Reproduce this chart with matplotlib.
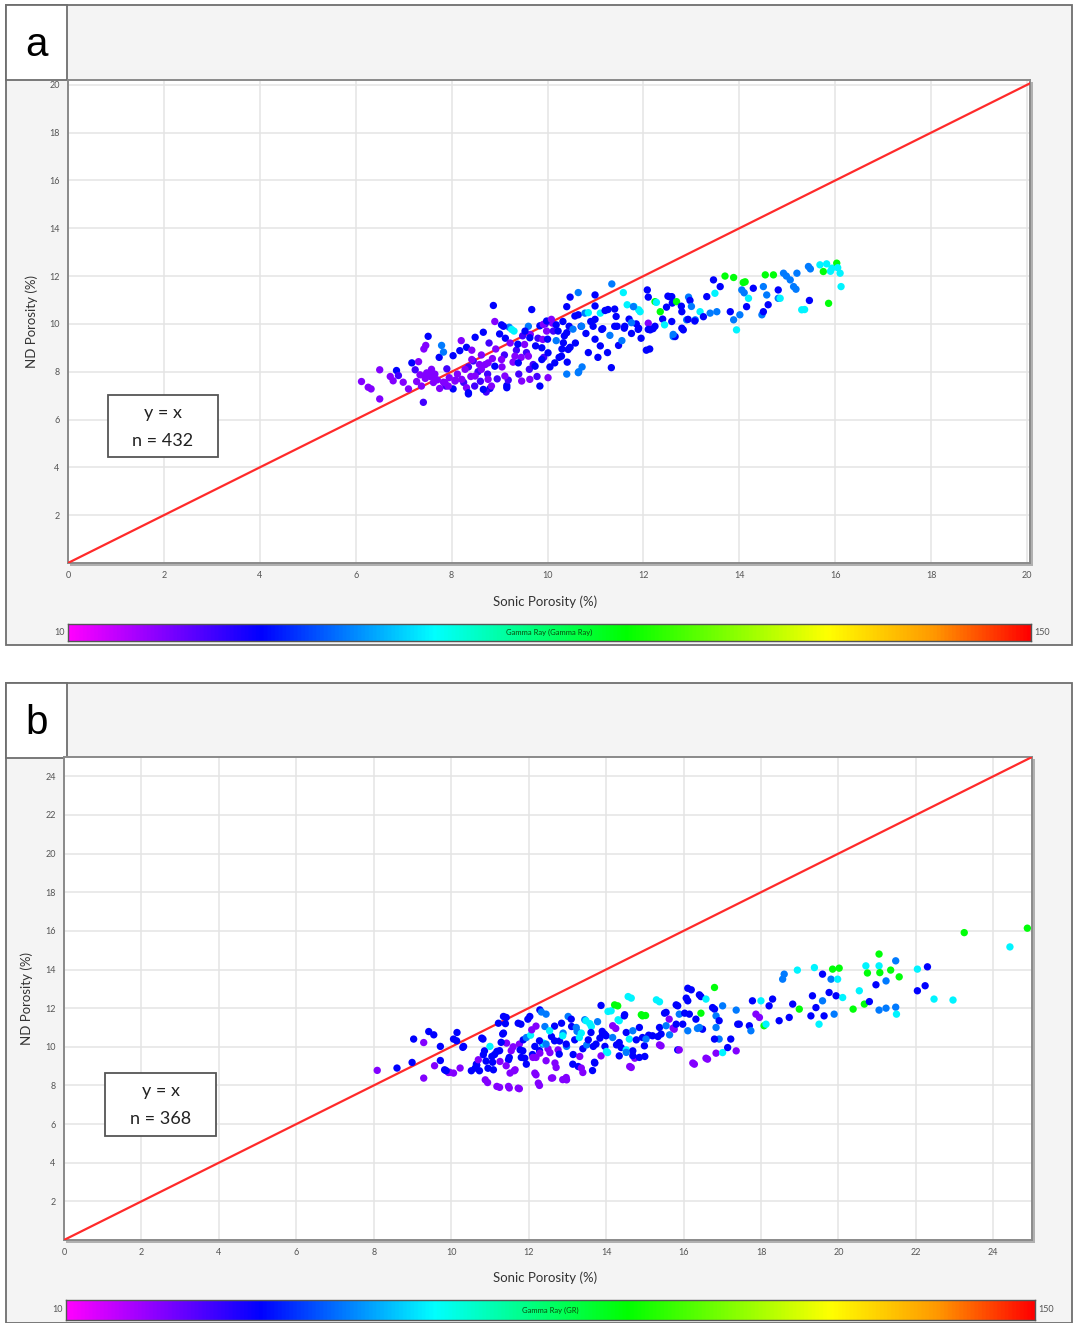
import matplotlib
matplotlib.use("Agg")
import matplotlib.pyplot as plt
from matplotlib.patches import Rectangle
from matplotlib.colors import LinearSegmentedColormap
import numpy as np

plt.rcParams['font.family'] = ['Lato', 'DejaVu Sans']

# GR colour classes
P, V, B, A, C, S, G = 24, 31, 38, 50, 62, 77, 90

# ---------------- panel a data ----------------
xa = [6.12, 6.26, 6.32, 6.50, 6.50, 6.72, 6.78, 6.85, 6.89, 6.99,
      7.10, 7.17, 7.24, 7.31, 7.27, 7.34, 7.41, 7.42, 7.46, 7.37, 7.45, 7.48,
      7.51, 7.55, 7.58, 7.62, 7.65, 7.70, 7.74, 7.79, 7.83, 7.83, 7.90, 7.95, 7.88, 7.75,
      8.03, 8.03, 8.08, 8.12, 8.17, 8.20, 8.25, 8.31, 8.35, 8.35, 8.40, 8.45, 8.48, 8.42,
      8.49, 8.55, 8.60, 8.62, 8.66, 8.70, 8.75, 8.78, 8.80, 8.85, 8.87, 8.90, 8.95, 8.92, 8.58, 8.72,
      9.00, 9.04, 9.05, 9.10, 9.12, 9.15, 9.18, 9.20, 9.22, 9.28, 9.30, 9.35, 9.38, 9.40, 9.45, 9.48,
      9.52, 9.56, 9.60, 9.64, 9.67, 9.70, 9.75, 9.78, 9.80, 9.84, 9.88, 9.90, 9.92, 9.95, 9.98, 9.62,
      10.00, 10.05, 10.10, 10.12, 10.18, 10.18, 10.24, 10.30, 10.32, 10.35, 10.40, 10.41, 10.45, 10.47, 10.47, 10.40,
      10.53, 10.58, 10.64, 10.64, 10.65, 10.70, 10.72, 10.78, 10.80, 10.85, 10.90, 10.95, 10.99, 10.99, 10.99,
      11.05, 11.10, 11.10, 11.15, 11.20, 11.25, 11.30, 11.33, 11.34, 11.40, 11.43, 11.45, 11.48,
      11.55, 11.58, 11.60, 11.66, 11.70, 11.75, 11.80, 11.85, 11.90, 11.90, 11.95, 11.93, 11.79,
      12.06, 12.08, 12.10, 12.10, 12.13, 12.14, 12.20, 12.24, 12.27, 12.35, 12.40, 12.44, 12.48,
      12.55, 12.59, 12.59, 12.60, 12.62, 12.66, 12.69, 12.80, 12.80, 12.83, 12.90, 12.94, 12.97,
      13.00, 13.08, 13.18, 13.25, 13.32, 13.39, 13.46, 13.49, 13.53, 13.60, 13.70, 13.81, 13.88, 13.88, 13.94,
      14.01, 14.05, 14.08, 14.12, 14.10, 14.15, 14.19, 14.29, 14.47, 14.50, 14.50, 14.54, 14.57, 14.60,
      14.71, 14.81, 14.85, 14.81, 14.92, 14.98, 15.06, 15.13, 15.18, 15.20, 15.30, 15.36, 15.44, 15.46, 15.48,
      15.68, 15.75, 15.82, 15.86, 15.90, 15.93, 16.03, 16.05, 16.10, 16.12,
      # extra points in the dense core
      9.08, 9.25, 9.53, 9.63, 9.91, 9.98, 10.08, 10.22, 10.40, 10.33, 10.57, 10.71, 10.85, 10.99,
      11.13, 11.26, 11.40, 11.61, 11.75, 11.89, 12.10, 12.24, 12.51, 12.62, 12.79, 12.93, 13.07,
      8.28, 8.42, 8.49, 8.62, 8.76, 8.76, 8.90, 9.04, 9.11, 9.32, 9.39, 9.60, 9.74, 9.88, 10.01,
      10.15, 10.29, 10.43, 10.64, 7.44, 7.58, 7.65, 7.86, 7.93, 8.07, 8.21, 8.31, 8.35, 8.66,
      8.83, 9.15, 9.46, 9.63, 9.84, 10.01]
ya = [7.59, 7.35, 7.28, 8.08, 6.86, 7.80, 7.62, 8.05, 7.84, 7.56,
      7.28, 8.37, 8.08, 8.42, 7.59, 7.87, 6.72, 8.95, 9.10, 7.40, 7.72, 7.95,
      9.48, 7.80, 8.10, 7.55, 7.90, 7.66, 8.60, 9.10, 8.82, 7.56, 8.12, 7.75, 7.40, 7.30,
      8.67, 7.28, 7.65, 7.90, 8.88, 9.30, 7.55, 9.02, 7.07, 8.20, 7.80, 8.45, 7.40, 8.90,
      9.44, 8.00, 7.60, 8.70, 9.65, 8.30, 7.90, 9.20, 7.30, 8.55, 10.77, 10.10, 7.70, 8.95, 8.30, 7.15,
      9.58, 9.96, 8.20, 8.70, 9.40, 7.42, 7.65, 9.86, 9.20, 8.40, 9.70, 8.90, 9.15, 7.90, 8.60, 9.50,
      9.14, 8.80, 9.90, 9.56, 10.60, 8.30, 9.08, 7.80, 9.40, 9.92, 9.00, 9.35, 8.60, 10.00, 9.70, 8.10,
      9.36, 8.20, 10.03, 9.70, 9.96, 9.30, 8.60, 8.95, 10.10, 9.50, 10.72, 8.40, 9.90, 9.02, 11.12, 7.90,
      9.78, 9.20, 11.31, 10.38, 8.00, 9.90, 8.20, 10.45, 9.60, 8.80, 10.10, 9.90, 11.21, 10.75, 9.36,
      8.60, 10.45, 9.08, 9.80, 10.56, 8.80, 9.52, 8.17, 11.67, 10.62, 10.31, 9.90, 9.10,
      9.30, 11.31, 9.82, 10.80, 10.20, 9.60, 10.73, 10.00, 10.59, 9.82, 9.40, 10.51, 10.72,
      8.90, 11.42, 11.12, 10.03, 8.95, 9.75, 9.80, 10.93, 10.90, 10.51, 10.20, 9.96, 10.70,
      11.13, 10.10, 11.14, 10.87, 9.47, 9.47, 10.93, 10.51, 9.82, 9.75, 10.17, 11.12, 10.98,
      10.73, 10.17, 10.51, 10.30, 11.14, 10.45, 11.84, 11.28, 10.51, 11.56, 12.00, 10.51, 10.17, 11.94, 9.75,
      10.38, 11.42, 11.73, 11.76, 11.30, 10.72, 11.07, 11.49, 10.38, 10.51, 11.56, 12.05, 11.21, 10.80,
      12.05, 11.07, 11.07, 11.42, 12.12, 12.00, 11.84, 11.56, 11.45, 12.12, 10.59, 10.60, 12.40, 10.98, 12.30,
      12.47, 12.19, 12.51, 10.86, 12.20, 12.33, 12.54, 12.35, 12.12, 11.56,
      9.90, 9.77, 9.70, 9.42, 9.98, 10.12, 10.19, 9.70, 9.63, 9.21, 10.33, 9.90, 10.47, 10.19,
      9.77, 10.60, 9.90, 9.90, 10.05, 9.77, 9.77, 9.90, 11.16, 9.56, 10.74, 10.19, 10.12,
      8.10, 8.51, 7.82, 8.10, 8.37, 7.68, 8.23, 8.51, 7.82, 8.65, 8.37, 8.65, 8.23, 8.51, 8.79,
      8.37, 8.65, 8.93, 7.96, 7.82, 7.96, 7.68, 7.54, 7.40, 7.61, 7.68, 7.33, 7.12, 7.26,
      7.40, 7.33, 7.61, 7.68, 7.40, 7.75]
gra = [P, P, P, P, P, P, P, B, V, P,
       P, B, V, P, P, P, V, P, P, P, P, P,
       B, P, P, P, P, P, B, A, A, P, V, P, V, P,
       B, B, P, P, B, P, V, B, B, V, P, V, V, P,
       B, V, V, P, B, P, V, V, B, P, B, P, V, P, P, V,
       B, B, P, V, B, B, V, A, P, P, C, V, B, V, P, V,
       P, V, A, P, B, V, B, V, V, B, B, P, V, V, P, V,
       B, B, P, V, B, A, B, B, B, B, B, B, B, B, B, A,
       A, B, A, B, A, B, A, A, B, B, B, B, B, B, B,
       B, C, B, B, B, B, A, B, A, B, B, B, B,
       A, C, B, C, B, B, C, B, C, B, B, C, A,
       B, B, B, P, B, B, B, G, C, G, B, C, B,
       B, B, B, B, A, B, G, B, B, B, A, A, B,
       A, A, C, B, B, A, B, C, A, B, G, B, A, G, C,
       A, A, G, G, A, B, C, B, A, B, A, G, A, B,
       G, A, C, B, A, A, A, A, A, A, C, C, A, B, A,
       C, G, C, G, C, C, G, C, C, C,
       B, C, B, B, P, B, P, B, B, B, B, A, C, B,
       B, B, B, B, A, B, B, B, B, A, B, B, B,
       P, P, P, P, P, P, B, P, P, P, B, P, B, B, B,
       B, B, B, A, P, P, P, P, P, P, P, P, B, B,
       P, B, P, P, B, P]

# ---------------- panel b data ----------------
xb = [8.09, 8.60, 8.99, 9.03, 9.29, 9.29, 9.42, 9.55, 9.57, 9.72, 9.72, 9.83, 9.93,
      10.06, 10.06, 10.15, 10.14, 10.23, 10.32, 10.62, 10.66, 10.65, 10.70, 10.79, 10.82, 10.86,
      10.88, 10.83, 10.90, 10.94, 10.95, 11.00, 11.05, 11.07, 11.09, 11.12, 11.18, 11.22, 11.25,
      11.25, 11.26, 11.18, 11.33, 11.35, 11.40, 11.35, 11.42, 11.43, 11.48, 11.50, 11.50, 11.52,
      11.48, 11.55, 11.60, 11.65, 11.73, 11.73, 11.76, 11.76, 11.80, 11.78, 11.81, 11.86, 11.90,
      11.94, 11.98, 12.03, 12.05, 12.08, 12.16, 12.10, 12.16, 12.19, 12.19, 12.19, 12.25, 12.28,
      12.28, 12.29, 12.33, 12.29, 12.36, 12.38, 12.42, 12.45, 12.50, 12.55, 12.59, 12.59, 12.62,
      12.68, 12.67, 12.76, 12.80, 12.85, 12.88, 12.98, 12.97, 12.89, 12.98, 13.02, 13.11, 13.15,
      13.19, 13.25, 13.28, 13.32, 13.36, 13.36, 13.40, 13.45, 13.50, 13.54, 13.58, 13.62, 13.65,
      13.67, 13.70, 13.71, 13.78, 13.84, 13.87, 13.87, 13.90, 13.96, 13.97, 14.01, 14.04, 14.05,
      14.13, 14.17, 14.22, 14.25, 14.27, 14.30, 14.31, 14.34, 14.34, 14.39, 14.47, 14.48, 14.52,
      14.52, 14.57, 14.60, 14.61, 14.65, 14.65, 14.69, 14.74, 14.78, 14.86, 14.91, 14.94, 14.94,
      14.99, 15.00, 15.02, 15.10, 15.20, 15.30, 15.34, 15.38, 15.38, 15.38, 15.42, 15.51, 15.55,
      15.63, 15.64, 15.73, 15.76, 15.81, 15.85, 15.85, 15.89, 15.89, 15.98, 16.03, 16.07, 16.11,
      16.11, 16.11, 16.15, 16.20, 16.24, 16.28, 16.36, 16.41, 16.45, 16.45, 16.49, 16.58, 16.58,
      16.62, 16.75, 16.80, 16.80, 16.84, 16.84, 16.84, 16.92, 16.92, 17.01, 17.01, 17.14, 17.22,
      17.36, 17.36, 17.40, 17.44, 17.70, 17.74, 17.78, 17.87, 17.96, 18.00, 18.08, 18.13, 18.21,
      18.30, 18.47, 18.56, 18.60, 18.73, 18.82, 18.94, 18.99, 19.29, 19.33, 19.38, 19.42, 19.50,
      19.59, 19.59, 19.63, 19.76, 19.81, 19.85, 19.89, 19.94, 19.98, 20.02, 20.11, 20.38, 20.54,
      20.67, 20.71, 20.75, 20.80, 20.97, 21.05, 21.05, 21.05, 21.07, 21.23, 21.23, 21.35, 21.48,
      21.48, 21.50, 21.57, 22.04, 22.04, 22.24, 22.30, 22.47, 22.96, 23.25, 24.43, 24.88,
      # extra points in the dense core
      11.85, 12.54, 12.67, 12.79, 12.97, 13.10, 13.23, 13.31, 13.48, 13.61, 13.74, 13.91,
      11.42, 11.63, 11.94, 12.11, 12.45, 12.71, 13.14, 13.40, 10.73, 10.52, 9.96, 9.87,
      10.30, 11.29, 12.28, 12.45, 12.88,
      14.00, 14.17, 14.34, 14.69, 14.86, 15.03, 15.42, 15.55, 15.81, 16.32, 16.41, 16.80,
      14.52, 14.69]
yb = [8.78, 8.90, 9.19, 10.40, 10.22, 8.38, 10.79, 10.62, 9.02, 10.02, 9.29, 8.81, 8.67,
      8.64, 10.40, 10.74, 10.31, 8.90, 10.02, 8.90, 9.05, 9.10, 9.33, 10.45, 10.40, 9.79,
      8.29, 9.59, 9.26, 8.15, 8.89, 10.02, 9.50, 9.20, 8.81, 9.60, 9.76, 11.22, 9.80,
      7.90, 9.24, 7.95, 10.66, 11.57, 11.20, 10.71, 11.52, 10.19, 9.33, 9.45, 7.87, 8.64,
      7.95, 9.80, 10.00, 8.81, 7.86, 11.22, 10.14, 7.83, 11.17, 9.84, 9.45, 10.36, 9.41,
      10.48, 11.43, 11.57, 10.60, 10.88, 10.02, 9.60, 8.64, 11.07, 9.45, 8.55, 8.12, 9.80,
      8.00, 11.91, 11.80, 9.67, 10.14, 10.19, 11.05, 11.69, 9.90, 9.70, 10.53, 8.38, 8.39,
      9.16, 11.07, 9.84, 10.30, 11.22, 8.30, 8.29, 8.41, 10.71, 10.02, 11.57, 11.05, 9.60,
      10.36, 10.80, 8.98, 9.50, 10.71, 8.90, 9.90, 11.40, 10.10, 10.36, 11.20, 11.05, 8.77,
      10.02, 9.20, 9.16, 11.30, 10.45, 12.14, 9.53, 10.80, 10.66, 10.02, 9.76, 9.70, 11.83,
      11.86, 11.09, 12.17, 10.95, 10.10, 12.12, 11.40, 11.35, 9.53, 9.96, 11.60, 11.66, 9.84,
      10.74, 12.60, 10.40, 8.98, 12.52, 8.93, 9.79, 9.41, 10.36, 9.45, 11.66, 11.60, 10.48,
      10.05, 9.50, 11.62, 10.60, 10.57, 12.43, 10.53, 11.00, 12.33, 10.10, 10.05, 11.74, 11.78,
      11.43, 10.62, 10.97, 10.91, 12.17, 12.12, 9.84, 11.69, 9.84, 11.17, 11.74, 12.52, 13.03,
      12.38, 10.83, 11.69, 12.95, 9.16, 9.10, 10.95, 12.69, 11.74, 12.60, 10.91, 9.41, 12.47,
      9.36, 12.03, 13.07, 11.95, 11.60, 11.00, 9.67, 11.35, 10.40, 12.12, 9.70, 9.96, 10.40,
      11.90, 9.79, 11.17, 11.17, 11.09, 10.83, 12.38, 11.69, 11.52, 12.38, 11.09, 11.17, 12.12,
      12.47, 11.35, 13.50, 13.76, 11.52, 12.21, 13.97, 11.95, 11.60, 12.64, 14.10, 12.03, 11.17,
      12.38, 13.76, 11.60, 12.81, 13.50, 14.02, 11.69, 12.64, 13.50, 14.07, 12.55, 11.95, 12.90,
      12.21, 14.19, 13.82, 12.34, 13.21, 14.80, 14.19, 11.90, 13.84, 13.41, 12.00, 13.97, 14.45,
      12.05, 11.69, 13.62, 14.02, 12.90, 13.16, 14.14, 12.47, 12.42, 15.91, 15.17, 16.14,
      9.79, 10.83, 10.31, 9.62, 10.14, 11.43, 11.00, 10.48, 11.35, 10.74, 10.14, 10.66,
      9.02, 8.76, 9.10, 9.45, 9.28, 8.93, 9.10, 8.67, 8.76, 8.76, 8.68, 8.76,
      9.97, 10.23, 10.31, 10.14, 10.57,
      10.57, 10.48, 10.22, 10.83, 11.00, 10.40, 10.66, 11.09, 11.17, 11.43, 11.00, 10.40,
      9.71, 9.54]
grb = [P, B, B, B, P, P, B, B, P, B, B, B, P,
       P, B, B, B, P, B, B, B, B, P, B, B, B,
       P, B, B, P, B, C, B, B, B, B, B, B, B,
       P, P, P, B, B, B, B, B, P, B, B, P, P,
       P, P, P, P, P, B, P, P, B, B, B, B, B,
       A, B, B, C, P, B, B, P, P, P, P, P, B,
       P, B, A, P, A, C, A, A, P, P, B, P, P,
       P, B, P, B, B, P, P, P, A, A, A, B, B,
       B, A, B, P, C, P, B, A, A, B, C, C, B,
       B, B, B, A, B, B, P, B, B, B, C, C, C,
       C, P, G, P, B, G, C, C, B, B, B, B, C,
       B, C, C, P, C, P, B, P, B, B, G, G, B,
       B, B, G, B, B, C, B, B, C, P, P, B, B,
       P, A, P, P, B, B, B, A, P, B, B, B, B,
       B, A, B, B, P, P, A, B, G, B, B, P, C,
       P, B, G, B, A, A, P, B, A, A, C, B, B,
       A, P, B, B, B, A, B, P, P, C, G, C, B,
       B, B, A, A, B, B, C, G, B, B, C, B, C,
       A, B, B, B, A, G, A, B, C, G, C, G, C,
       G, C, G, B, B, G, C, A, G, A, A, G, A,
       A, C, G, C, B, B, B, C, C, G, C, G,
       B, C, B, B, B, B, A, C, C, B, B, B,
       P, P, B, P, P, P, B, P, B, B, P, B,
       B, B, B, A, C,
       B, A, B, A, B, A, B, A, B, B, A, B,
       A, B]

xticks_a = list(range(0, 21, 2))
yticks_a = list(range(2, 21, 2))
xticks_b = list(range(0, 25, 2))
yticks_b = list(range(2, 25, 2))
gr_min, gr_max = 10, 150

W, H = 1073, 1323
fig = plt.figure(figsize=(W / 100, H / 100), dpi=100)
fig.patch.set_facecolor('white')


def fr(x0, y0, x1, y1):
    return [x0 / W, 1 - y1 / H, (x1 - x0) / W, (y1 - y0) / H]


def rect(x0, y0, x1, y1, fc, ec='none', lw=0, z=0):
    l, b, w, h = fr(x0, y0, x1, y1)
    fig.add_artist(Rectangle((l, b), w, h, transform=fig.transFigure,
                             facecolor=fc, edgecolor=ec, linewidth=lw, zorder=z))


cmap = LinearSegmentedColormap.from_list('gr', [
    (0.0, '#ff00ff'), (0.2, '#0000ff'), (0.38, '#00ffff'), (0.58, '#00ff00'),
    (0.79, '#ffff00'), (0.9, '#ff9900'), (1.0, '#ff0000')])


def panel(top, letter, plot_box, xs, ys, grs, xt, yt, lim, n, cbar_box, cb_title,
          xlab_y, ylab_x, nbox):
    rect(6, top, 1072, top + 640, '#f4f4f4', '#6e6e6e', 1.3, z=-5)
    rect(6, top, 67, top + 75, 'white', '#6e6e6e', 1.3, z=-4)
    fig.text(36.5 / W, 1 - (top + 40) / H, letter, fontsize=29, ha='center', va='center',
             family=['Liberation Sans', 'DejaVu Sans'])
    x0, y0, x1, y1 = plot_box
    rect(x0 + 2, y0 + 2, x1 + 3, y1 + 3, '#b0b0b0', z=-3)
    ax = fig.add_axes(fr(*plot_box))
    ax.set_facecolor('white')
    ax.set_xlim(0, lim[0])
    ax.set_ylim(0, lim[1])
    ax.set_xticks(xt)
    ax.set_yticks(yt)
    ax.set_xticklabels([str(v) for v in xt])
    ax.set_yticklabels([str(v) for v in yt])
    ax.tick_params(length=0, labelsize=6.5, labelcolor='#555555', pad=6)
    ax.grid(True, color='#e4e4e4', lw=1.1)
    ax.set_axisbelow(True)
    for s in ax.spines.values():
        s.set_color('#8a8a8a')
        s.set_linewidth(1.4)
    m = min(lim)
    ax.plot([0, m], [0, m], color='#ff2a2a', lw=1.6, zorder=3)
    ax.scatter(xs, ys, c=grs, cmap=cmap, vmin=gr_min, vmax=gr_max, s=28,
               linewidths=0, zorder=4)
    fig.text(545 / W, 1 - xlab_y / H, 'Sonic Porosity (%)', fontsize=9.5, color='#333333',
             ha='center', va='center')
    fig.text(ylab_x / W, 1 - ((y0 + y1) / 2) / H, 'ND Porosity (%)', fontsize=9.5,
             color='#333333', ha='center', va='center', rotation=90)
    bx0, by0, bx1, by1 = nbox
    rect(bx0, by0, bx1, by1, 'white', '#555555', 1.3, z=10)
    cx = (bx0 + bx1) / 2 / W
    fig.text(cx, 1 - (by0 + 18) / H, 'y = x', fontsize=13, ha='center', va='center',
             color='#222222', zorder=11)
    fig.text(cx, 1 - (by0 + 46) / H, 'n = %d' % n, fontsize=13, ha='center', va='center',
             color='#222222', zorder=11)
    cax = fig.add_axes(fr(*cbar_box))
    cax.imshow(np.linspace(0, 1, 512)[None, :], aspect='auto', cmap=cmap,
               extent=[0, 1, 0, 1])
    cax.set_xticks([])
    cax.set_yticks([])
    for s in cax.spines.values():
        s.set_color('#555555')
        s.set_linewidth(1.0)
    cax.text(0.5, 0.5, cb_title, fontsize=5.5, color='#0b4a0b', ha='center', va='center',
             transform=cax.transAxes)
    cyc = 1 - ((cbar_box[1] + cbar_box[3]) / 2) / H
    fig.text((cbar_box[0] - 3) / W, cyc, str(gr_min), fontsize=6.5, color='#555555',
             ha='right', va='center')
    fig.text((cbar_box[2] + 3) / W, cyc, str(gr_max), fontsize=6.5, color='#555555',
             ha='left', va='center')
    return ax


panel(5, 'a', (68, 80, 1030, 563), xa, ya, gra, xticks_a, yticks_a, (20.06, 20.2), 432,
      (68, 624, 1031, 641), 'Gamma Ray (Gamma Ray)', 602, 32, (108, 395, 218, 457))
panel(683, 'b', (64, 757, 1032, 1240), xb, yb, grb, xticks_b, yticks_b, (25.0, 25.0), 368,
      (66, 1300, 1035, 1320), 'Gamma Ray (GR)', 1278, 27, (105, 1073, 216, 1136))

fig.savefig('out.png', dpi=100, facecolor='white')
